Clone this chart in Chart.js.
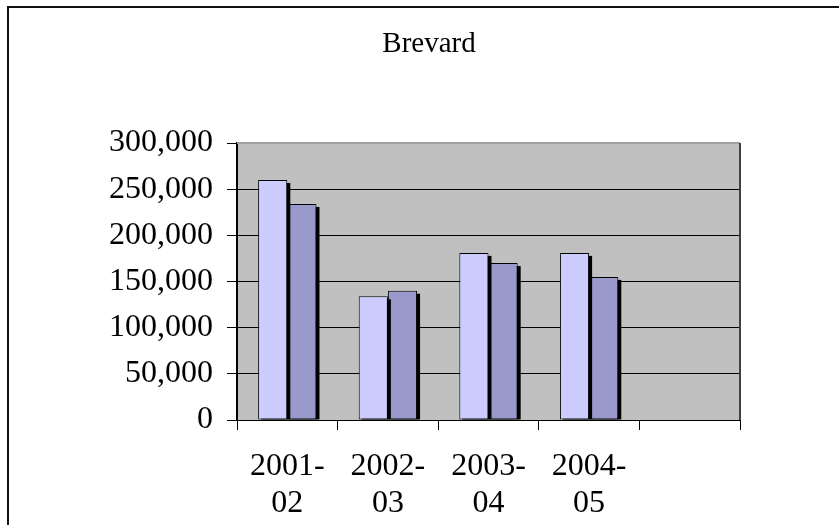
<!DOCTYPE html>
<html>
<head>
<meta charset="utf-8">
<script src="https://cdn.jsdelivr.net/npm/chart.js@4.4.0/dist/chart.umd.min.js"></script>
<style>
  html, body { margin: 0; padding: 0; background: #fff; }
  #wrap { position: relative; width: 839px; height: 525px; overflow: hidden; }
  #frame { position: absolute; left: 7px; top: 6px; width: 900px; height: 600px; border: 2px solid #111; box-sizing: border-box; }
  #chart { position: absolute; left: 0; top: 0; }
</style>
</head>
<body>
<div id="wrap">
  <div id="frame"></div>
  <canvas id="chart" width="839" height="525"></canvas>
</div>
<script>
const chartTitle = 'Brevard';
const categories = [['2001-', '02'], ['2002-', '03'], ['2003-', '04'], ['2004-', '05'], ''];
const seriesA = [260000, 134000, 181000, 181000, null];
const seriesB = [234000, 140000, 170000, 155000, null];
const yTicks = [0, 50000, 100000, 150000, 200000, 250000, 300000];

// grey plot background + frame lines of plot area
const plotArea = {
    id: 'plotArea',
    beforeDraw(chart) {
        const { ctx, chartArea: a } = chart;
        ctx.save();
        ctx.fillStyle = '#c0c0c0';
        ctx.fillRect(a.left, a.top, a.right - a.left, a.bottom - a.top);
        ctx.restore();
    },
    afterDraw(chart) {
        const { ctx, chartArea: a } = chart;
        ctx.save();
        ctx.strokeStyle = '#a0a0a0';
        ctx.lineWidth = 2;
        ctx.beginPath();
        ctx.moveTo(a.left, a.top);
        ctx.lineTo(a.right, a.top);
        ctx.stroke();
        ctx.strokeStyle = '#404040';
        ctx.beginPath();
        ctx.moveTo(a.right, a.top);
        ctx.lineTo(a.right, a.bottom);
        ctx.stroke();
        // title, centred on the whole (wider) chart object
        ctx.fillStyle = '#000';
        ctx.font = '29px "Liberation Serif"';
        ctx.textAlign = 'center';
        ctx.textBaseline = 'alphabetic';
        ctx.fillText(chartTitle, 429, 52);
        ctx.restore();
    }
};

// black drop shadow behind each bar, taken from the bar elements
const barShadow = {
    id: 'barShadow',
    beforeDatasetDraw(chart, args) {
        const ctx = chart.ctx;
        const meta = chart.getDatasetMeta(args.index);
        const values = chart.data.datasets[args.index].data;
        ctx.save();
        ctx.fillStyle = '#000';
        meta.data.forEach((bar, i) => {
            if (values[i] == null) return;
            const { x, y, base, width } = bar.getProps(['x', 'y', 'base', 'width'], true);
            ctx.fillRect(x - width / 2 + 3, y + 3, width, base - y - 3);
        });
        ctx.restore();
    }
};

new Chart(document.getElementById('chart'), {
    type: 'bar',
    data: {
        labels: categories,
        datasets: [
            { data: seriesA, backgroundColor: '#ccccff', borderColor: '#000', borderWidth: 1, borderSkipped: false },
            { data: seriesB, backgroundColor: '#9999cc', borderColor: '#000', borderWidth: 1, borderSkipped: false }
        ]
    },
    options: {
        responsive: false,
        animation: false,
        devicePixelRatio: 1,
        layout: { padding: { top: 143, right: 99, left: 0, bottom: 0 } },
        categoryPercentage: 0.58,
        barPercentage: 1.0,
        plugins: {
            legend: { display: false },
            tooltip: { enabled: false },
            title: { display: false }
        },
        scales: {
            x: {
                offset: true,
                grid: { offset: true, drawOnChartArea: false, drawTicks: true, tickLength: 10, color: '#000', lineWidth: 1 },
                border: { color: '#000', width: 1 },
                ticks: {
                    color: '#000',
                    maxRotation: 0,
                    autoSkip: false,
                    padding: 18,
                    font: { family: 'Liberation Serif', size: 32, lineHeight: 1.16 }
                },
                afterFit(s) { s.height = 105; }
            },
            y: {
                min: 0,
                max: 300000,
                afterBuildTicks(s) { s.ticks = yTicks.map(v => ({ value: v })); },
                grid: { color: '#000', lineWidth: 1, drawTicks: true, tickLength: 10 },
                border: { color: '#000', width: 2 },
                ticks: {
                    color: '#000',
                    padding: 14,
                    font: { family: 'Liberation Serif', size: 32 },
                    callback: v => v.toLocaleString('en-US')
                },
                afterFit(s) { s.width = 237; }
            }
        }
    },
    plugins: [plotArea, barShadow]
});
</script>
</body>
</html>
